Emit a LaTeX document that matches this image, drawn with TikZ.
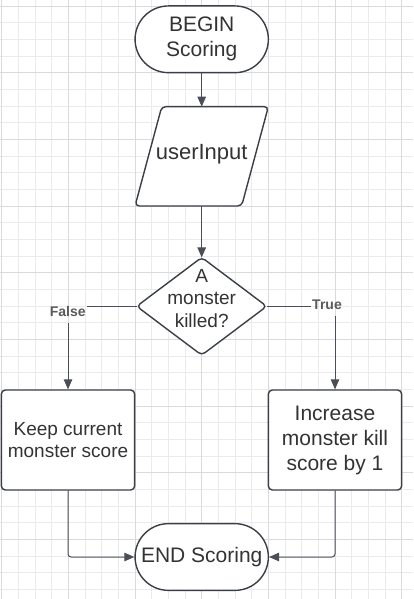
\documentclass[tikz,border=0pt]{standalone}
\usepackage{fontspec}
\setmainfont{Liberation Sans}
\usetikzlibrary{arrows.meta,shapes.misc}
\definecolor{gridminor}{HTML}{EBEBEB}
\definecolor{gridmajor}{HTML}{DADADA}
\definecolor{shapeline}{HTML}{3A3F47}
\definecolor{connline}{HTML}{4A4F57}
\definecolor{txt}{HTML}{333333}
\definecolor{lbl}{HTML}{5A5A5A}
\tikzset{
 term/.style={rounded rectangle, draw=shapeline, line width=1.4pt, fill=white, minimum width=133.3pt, minimum height=66.7pt, inner sep=0pt, text=txt, align=center},
 procbox/.style={rectangle, rounded corners=4pt, draw=shapeline, line width=1.4pt, fill=white, minimum width=133.3pt, minimum height=100pt, inner sep=0pt, text=txt, align=center},
 holder/.style={rectangle, draw=none, inner sep=0pt, outer sep=0pt},
 outline/.style={draw=shapeline, line width=1.4pt, fill=white, rounded corners=4pt},
 textonly/.style={inner sep=0pt, text=txt, align=center},
 conn/.style={draw=connline, line width=1pt, -{Triangle[length=10pt,width=8.5pt]}},
 plainconn/.style={draw=connline, line width=1pt},
 branchlbl/.style={text=lbl, font=\fontsize{14}{16}\selectfont\bfseries, inner xsep=1pt, inner ysep=6pt},
 big/.style={font=\fontsize{21}{25}\selectfont},
 mid/.style={font=\fontsize{19}{22.7}\selectfont},
 minorline/.style={draw=gridminor, line width=0.8pt},
 majorline/.style={draw=gridmajor, line width=0.8pt},
}
\begin{document}
\begin{tikzpicture}[x=1pt,y=-1pt]
\useasboundingbox[fill=white] (0,0) rectangle (413,599);
% grid
\foreach \i in {0,...,24} \draw[minorline] ({1.667+\i*16.667},0) -- ({1.667+\i*16.667},599);
\foreach \j in {0,...,35} \draw[minorline] (0,{6+\j*16.667}) -- (413,{6+\j*16.667});
\foreach \i in {0,...,6} \draw[majorline] ({1.667+\i*66.667},0) -- ({1.667+\i*66.667},599);
\foreach \j in {0,...,8} \draw[majorline] (0,{6+\j*66.667}) -- (413,{6+\j*66.667});

% begin
\node[term, big] (begin) at (201.7,39.3) {BEGIN\\Scoring};

% user input parallelogram
\node[holder, minimum width=133.3pt, minimum height=99.3pt] (ui) at (201.7,156.3) {};
\draw[outline] ([xshift=26.7pt]ui.north west) -- (ui.north east) -- ([xshift=-26.7pt]ui.south east) -- (ui.south west) -- cycle;
\node[textonly, font=\fontsize{22}{26}\selectfont] (uitext) at ([yshift=2pt]ui.center) {userInput};

% decision diamond
\node[holder, minimum width=130pt, minimum height=97.7pt] (d) at (201.7,306.3) {};
\draw[outline] (d.north) -- (d.east) -- (d.south) -- (d.west) -- cycle;
\node[textonly, font=\fontsize{19}{22.5}\selectfont] (dtext) at ([yshift=8pt]d.center) {A\\monster\\killed?};

% process boxes
\node[procbox, mid] (kb) at (68,440) {Keep current\\monster score};
\node[procbox, big] (ib) at (335,440) {Increase\\monster kill\\score by 1};

% end
\node[term, big] (end) at (201.7,557) {END Scoring};

% branch labels
\node[branchlbl] (lf) at (67.7,311.7) {False};
\node[branchlbl] (lt) at (327,305) {True};

% connectors
\draw[conn] (begin.south) -- (ui.north);
\draw[conn] (ui.south) -- (d.north);
\draw[plainconn] (d.west) -- (d.west -| lf.east);
\draw[conn] (lf.south -| kb.north) -- (kb.north);
\draw[plainconn] (d.east) -- (d.east -| lt.west);
\draw[conn] (lt.south -| ib.north) -- (ib.north);
\draw[conn, rounded corners=3pt] (kb.south) |- (end.west);
\draw[conn, rounded corners=3pt] (ib.south) |- (end.east);
\end{tikzpicture}
\end{document}
